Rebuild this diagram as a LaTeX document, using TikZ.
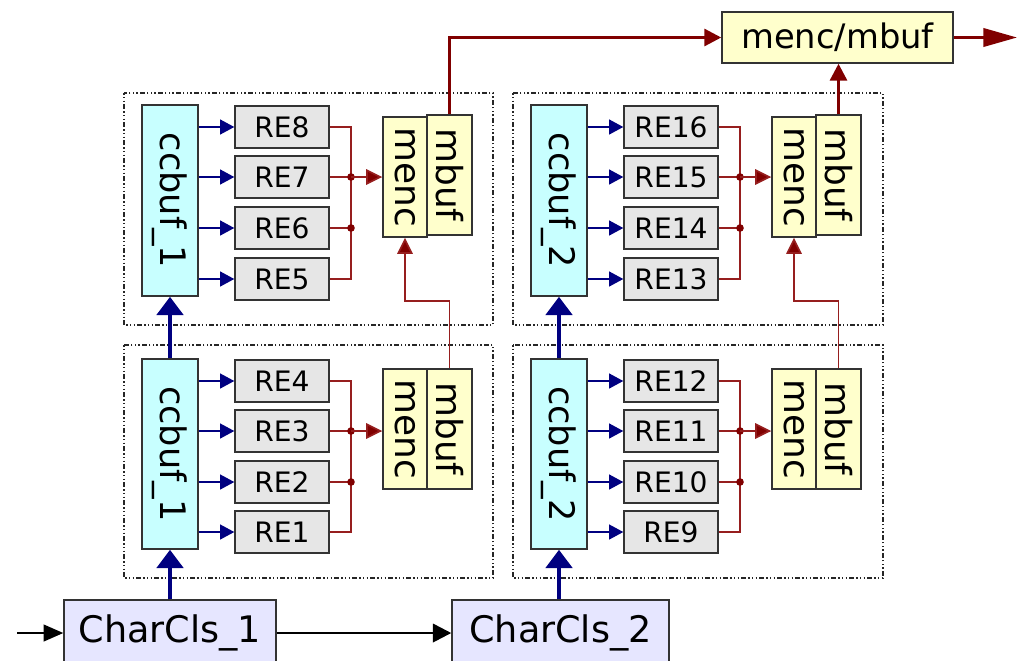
\documentclass[tikz,border=0pt]{standalone}
\usepackage{fontspec}
\setmainfont{DejaVu Sans}
\usetikzlibrary{arrows.meta}

\definecolor{bufcyan}{HTML}{C8FFFF}
\definecolor{regray}{HTML}{E6E6E6}
\definecolor{encyellow}{HTML}{FFFFCC}
\definecolor{clslav}{HTML}{E6E6FF}
\definecolor{dnavy}{HTML}{000080}
\definecolor{dred}{HTML}{800000}
\definecolor{busred}{HTML}{961E1E}
\definecolor{edgegray}{HTML}{333333}

\tikzset{
  blk/.style={draw=edgegray, line width=1pt, inner sep=0pt, align=center},
  ccbox/.style={blk, fill=bufcyan, minimum width=1.4cm, minimum height=4.775cm, font=\fontsize{25}{25}\selectfont},
  rebox/.style={blk, fill=regray, minimum width=2.35cm, minimum height=1.05cm, font=\fontsize{20}{20}\selectfont},
  encbox/.style={blk, fill=encyellow, minimum width=1.1cm, minimum height=3cm, font=\fontsize{25.5}{25.5}\selectfont},
  mbbox/.style={encbox, minimum width=1.125cm},
  topbox/.style={blk, fill=encyellow, minimum width=5.775cm, minimum height=1.275cm, font=\fontsize{24}{24}\selectfont},
  clsbox/.style={blk, fill=clslav, minimum height=1.65cm, font=\fontsize{26}{26}\selectfont},
  frame/.style={draw=black!85, line width=0.8pt, dash pattern=on 1.2pt off 1.5pt on 1.2pt off 1.5pt on 1.2pt off 1.5pt on 3.2pt off 1.5pt},
  feed/.style={draw=dnavy, line width=1.1pt, -{Triangle[length=10pt, width=10.5pt]}},
  bigfeed/.style={draw=dnavy, line width=3.5pt, -{Triangle[length=13pt, width=18.5pt]}},
  bus/.style={draw=busred, line width=1.2pt},
  busarrow/.style={bus, -{Triangle[length=11.5pt, width=11pt, fill=dred]}},
  mainred/.style={draw=dred, line width=2.2pt, -{Triangle[length=12pt, width=12pt]}},
  blkarrow/.style={draw=black, line width=1.8pt, -{Triangle[length=13pt, width=13pt]}},
}

\begin{document}
\begin{tikzpicture}[x=0.025cm, y=-0.025cm]
  \useasboundingbox (0,0) rectangle (1017,660);

  % dotted groups
  \draw[frame] (124,93) rectangle (493,325);
  \draw[frame] (124,345) rectangle (493,578);
  \draw[frame] (513,93) rectangle (883,325);
  \draw[frame] (513,345) rectangle (883,578);

  % left column
  \node[ccbox] (bufB) at (170,200.5){\rotatebox{-90}{ccbuf\_1}};
  \node[ccbox, minimum height=4.75cm] (bufA) at (170,454){\rotatebox{-90}{ccbuf\_1}};
  \node[rebox] (re8) at (282,127){RE8};
  \node[rebox] (re7) at (282,177){RE7};
  \node[rebox] (re6) at (282,228){RE6};
  \node[rebox] (re5) at (282,279){RE5};
  \node[rebox] (re4) at (282,381){RE4};
  \node[rebox] (re3) at (282,431){RE3};
  \node[rebox] (re2) at (282,482){RE2};
  \node[rebox] (re1) at (282,532){RE1};
  \node[encbox] (encB) at (405,177){\rotatebox{-90}{menc}};
  \node[mbbox] (mbB) at (449.5,175){\rotatebox{-90}{mbuf}};
  \node[encbox] (encA) at (405,429){\rotatebox{-90}{menc}};
  \node[mbbox] (mbA) at (449.5,429){\rotatebox{-90}{mbuf}};

  % right column
  \node[ccbox] (bufD) at (559,200.5){\rotatebox{-90}{ccbuf\_2}};
  \node[ccbox, minimum height=4.75cm] (bufC) at (559,454){\rotatebox{-90}{ccbuf\_2}};
  \node[rebox] (re16) at (671,127){RE16};
  \node[rebox] (re15) at (671,177){RE15};
  \node[rebox] (re14) at (671,228){RE14};
  \node[rebox] (re13) at (671,279){RE13};
  \node[rebox] (re12) at (671,381){RE12};
  \node[rebox] (re11) at (671,431){RE11};
  \node[rebox] (re10) at (671,482){RE10};
  \node[rebox] (re9) at (671,532){RE9};
  \node[encbox] (encD) at (794,177){\rotatebox{-90}{menc}};
  \node[mbbox] (mbD) at (838.5,175){\rotatebox{-90}{mbuf}};
  \node[encbox] (encC) at (794,429){\rotatebox{-90}{menc}};
  \node[mbbox] (mbC) at (838.5,429){\rotatebox{-90}{mbuf}};

  % merged output and classifiers
  \node[topbox] (encbuf) at (837.5,37.5){menc/mbuf};
  \node[clsbox, minimum width=5.3cm] (cls1) at (170,633){CharCls\_1};
  \node[clsbox, minimum width=5.425cm] (cls2) at (560.5,633){CharCls\_2};
  \coordinate (inp) at (17,633);
  \coordinate (outp) at (1017,37.5);

  % bus junctions
  \coordinate (jB1) at (351,177);
  \coordinate (jB2) at (351,228);
  \coordinate (jA1) at (351,431);
  \coordinate (jA2) at (351,482);
  \coordinate (jD1) at (740,177);
  \coordinate (jD2) at (740,228);
  \coordinate (jC1) at (740,431);
  \coordinate (jC2) at (740,482);

  % ccbuf -> RE
  \draw[feed] (re8.west -| bufB.east) -- (re8.west);
  \draw[feed] (re7.west -| bufB.east) -- (re7.west);
  \draw[feed] (re6.west -| bufB.east) -- (re6.west);
  \draw[feed] (re5.west -| bufB.east) -- (re5.west);
  \draw[feed] (re4.west -| bufA.east) -- (re4.west);
  \draw[feed] (re3.west -| bufA.east) -- (re3.west);
  \draw[feed] (re2.west -| bufA.east) -- (re2.west);
  \draw[feed] (re1.west -| bufA.east) -- (re1.west);
  \draw[feed] (re16.west -| bufD.east) -- (re16.west);
  \draw[feed] (re15.west -| bufD.east) -- (re15.west);
  \draw[feed] (re14.west -| bufD.east) -- (re14.west);
  \draw[feed] (re13.west -| bufD.east) -- (re13.west);
  \draw[feed] (re12.west -| bufC.east) -- (re12.west);
  \draw[feed] (re11.west -| bufC.east) -- (re11.west);
  \draw[feed] (re10.west -| bufC.east) -- (re10.west);
  \draw[feed] (re9.west -| bufC.east) -- (re9.west);

  % RE -> menc
  \draw[bus] (re8.east) -| (jB1) -- (jB2) |- (re5.east);
  \draw[bus] (re7.east) -- (jB1);
  \draw[bus] (re6.east) -- (jB2);
  \draw[bus] (re4.east) -| (jA1) -- (jA2) |- (re1.east);
  \draw[bus] (re3.east) -- (jA1);
  \draw[bus] (re2.east) -- (jA2);
  \draw[bus] (re16.east) -| (jD1) -- (jD2) |- (re13.east);
  \draw[bus] (re15.east) -- (jD1);
  \draw[bus] (re14.east) -- (jD2);
  \draw[bus] (re12.east) -| (jC1) -- (jC2) |- (re9.east);
  \draw[bus] (re11.east) -- (jC1);
  \draw[bus] (re10.east) -- (jC2);
  \fill[dred] (jB1) circle (2.7pt) (jB2) circle (2.7pt) (jA1) circle (2.7pt) (jA2) circle (2.7pt);
  \fill[dred] (jD1) circle (2.7pt) (jD2) circle (2.7pt) (jC1) circle (2.7pt) (jC2) circle (2.7pt);
  \draw[busarrow] (jB1) -- (jB1 -| encB.west);
  \draw[busarrow] (jA1) -- (jA1 -| encA.west);
  \draw[busarrow] (jD1) -- (jD1 -| encD.west);
  \draw[busarrow] (jC1) -- (jC1 -| encC.west);

  % mbuf chain
  \draw[busarrow] (mbA.north) -- ++(0,-67) -| (encB.south);
  \draw[busarrow] (mbC.north) -- ++(0,-67) -| (encD.south);
  \draw[mainred] (mbB.north) |- (encbuf.west);
  \draw[mainred] (mbD.north) -- (mbD.north |- encbuf.south);
  \draw[mainred, -{Triangle[length=24pt, width=13pt]}] (encbuf.east) -- (outp);

  % classifier chain
  \draw[bigfeed] (cls1.north) -- (bufA.south);
  \draw[bigfeed] (bufA.north) -- (bufB.south);
  \draw[bigfeed] (bufC.south |- cls2.north) -- (bufC.south);
  \draw[bigfeed] (bufC.north) -- (bufD.south);
  \draw[blkarrow, line width=1.1pt, -{Triangle[length=14pt, width=12pt]}] (inp) -- (cls1.west);
  \draw[blkarrow] (cls1.east) -- (cls2.west);
\end{tikzpicture}
\end{document}
